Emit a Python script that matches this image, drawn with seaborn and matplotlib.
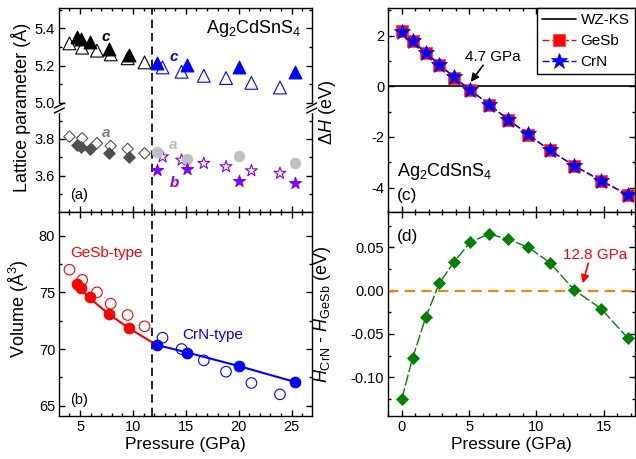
import matplotlib
matplotlib.use("Agg")
import matplotlib.pyplot as plt
from matplotlib.ticker import MultipleLocator, FormatStrFormatter
from matplotlib.lines import Line2D
import seaborn as sns

# ---- left column: Ag2CdSnS4 structure vs pressure ----
p_gesb_exp = [4.7, 5.1, 5.9, 7.7, 9.6]
p_gesb_calc = [4.0, 5.2, 6.6, 7.9, 9.5, 11.1]
p_crn_exp = [12.3, 15.1, 20.0, 25.3]
p_crn_calc = [12.8, 14.6, 16.7, 18.8, 21.2, 23.9]

c_gesb_exp = [5.355, 5.342, 5.324, 5.287, 5.256]
c_gesb_calc = [5.319, 5.296, 5.280, 5.260, 5.239, 5.217]
c_crn_exp = [5.212, 5.203, 5.190, 5.165]
c_crn_calc = [5.190, 5.167, 5.145, 5.133, 5.107, 5.082]

a_gesb_exp = [3.767, 3.755, 3.745, 3.722, 3.703]
a_gesb_calc = [3.813, 3.804, 3.777, 3.762, 3.746, 3.722]
a_crn_exp = [3.727, 3.689, 3.707, 3.667]
b_crn_exp = [3.631, 3.636, 3.572, 3.558]
b_crn_calc = [3.703, 3.685, 3.667, 3.649, 3.627, 3.613]

v_gesb_exp = [75.71, 75.41, 74.56, 73.06, 71.83]
v_gesb_calc = [77.0, 76.1, 75.0, 74.0, 73.0, 72.0]
v_crn_exp = [70.35, 69.67, 68.53, 67.09]
v_crn_calc = [71.0, 70.0, 69.0, 68.0, 67.0, 66.0]

# fitted EOS curves
p_fit_gesb = [4.7, 5.9, 7.7, 9.6, 11.8]
v_fit_gesb = [75.7, 74.5, 73.1, 71.85, 70.6]
p_fit_crn = [12.3, 15.1, 20.0, 25.3]
v_fit_crn = [70.35, 69.7, 68.5, 67.1]

p_transition = 11.8

# ---- right column: enthalpies ----
p_calc = [0, 0.8, 1.8, 2.8, 3.9, 5.1, 6.5, 7.9, 9.4, 11.0, 12.8, 14.8, 16.8]
dH_gesb = [2.18, 1.79, 1.33, 0.86, 0.34, -0.16, -0.73, -1.32, -1.91, -2.53, -3.13, -3.72, -4.27]
dH_crn = [2.16, 1.78, 1.32, 0.86, 0.35, -0.15, -0.72, -1.31, -1.90, -2.53, -3.13, -3.73, -4.29]
dH_diff = [-0.125, -0.078, -0.030, 0.009, 0.0335, 0.0562, 0.0655, 0.0593, 0.050, 0.0323, 0.0008, -0.0208, -0.055]

sns.set_theme(style="ticks")
plt.rcParams['font.family'] = ['Liberation Sans', 'DejaVu Sans']
plt.rcParams['mathtext.fontset'] = 'custom'
plt.rcParams['mathtext.rm'] = 'Liberation Sans'
plt.rcParams['mathtext.it'] = 'Liberation Sans:italic'
plt.rcParams['mathtext.bf'] = 'Liberation Sans:bold'
plt.rcParams['axes.unicode_minus'] = False
plt.rcParams['axes.edgecolor'] = 'black'
plt.rcParams['axes.linewidth'] = 1.0
plt.rcParams['text.color'] = 'black'
plt.rcParams['axes.labelcolor'] = 'black'
plt.rcParams['xtick.color'] = 'black'
plt.rcParams['ytick.color'] = 'black'

W, H = 636, 459
fig = plt.figure(figsize=(W / 100, H / 100), dpi=100)


def rect(x0, y0, x1, y1):
    return [x0 / W, 1 - y1 / H, (x1 - x0) / W, (y1 - y0) / H]


def set_ticks(ax, xmaj, xmin, ymaj, ymin, yfmt=None):
    ax.xaxis.set_major_locator(MultipleLocator(xmaj))
    ax.xaxis.set_minor_locator(MultipleLocator(xmin))
    ax.yaxis.set_major_locator(MultipleLocator(ymaj))
    ax.yaxis.set_minor_locator(MultipleLocator(ymin))
    if yfmt:
        ax.yaxis.set_major_formatter(FormatStrFormatter(yfmt))
    ax.tick_params(which='both', direction='in', top=True, right=True,
                   labelsize=10.5, width=1.0, pad=3)
    ax.tick_params(which='major', length=4.5)
    ax.tick_params(which='minor', length=2.5)


ax_at = fig.add_axes(rect(59.3, 8, 311.7, 108))
ax_ab = fig.add_axes(rect(59.3, 108, 311.7, 212))
ax_b = fig.add_axes(rect(59.3, 212, 311.7, 416))
ax_c = fig.add_axes(rect(388.3, 8, 635, 212))
ax_d = fig.add_axes(rect(388.3, 212, 635, 416))

open_kw = dict(facecolor='none', linewidth=0.8, zorder=3)
fill_kw = dict(linewidth=0.8, zorder=4)

# ---- (a) upper: c ----
sns.scatterplot(x=p_gesb_calc, y=c_gesb_calc, ax=ax_at, marker='^', s=85,
                color='black', edgecolor='black', **open_kw)
sns.scatterplot(x=p_gesb_exp, y=c_gesb_exp, ax=ax_at, marker='^', s=85,
                color='black', edgecolor='black', **fill_kw)
sns.scatterplot(x=p_crn_calc, y=c_crn_calc, ax=ax_at, marker='^', s=85,
                color='blue', edgecolor='blue', **open_kw)
sns.scatterplot(x=p_crn_exp, y=c_crn_exp, ax=ax_at, marker='^', s=85,
                color='blue', edgecolor='blue', **fill_kw)

# ---- (a) lower: a, b ----
sns.scatterplot(x=p_gesb_calc, y=a_gesb_calc, ax=ax_ab, marker='D', s=34,
                color='#505050', edgecolor='#505050', **open_kw)
sns.scatterplot(x=p_gesb_exp, y=a_gesb_exp, ax=ax_ab, marker='D', s=34,
                color='#505050', edgecolor='#505050', **fill_kw)
sns.scatterplot(x=p_crn_exp, y=a_crn_exp, ax=ax_ab, marker='o', s=55,
                color='#c0c0c0', edgecolor='#c0c0c0', **fill_kw)
sns.scatterplot(x=p_crn_calc, y=b_crn_calc, ax=ax_ab, marker='*', s=80,
                color='#8000ff', edgecolor='#8000ff', **open_kw)
sns.scatterplot(x=p_crn_exp, y=b_crn_exp, ax=ax_ab, marker='*', s=80,
                color='#8000ff', edgecolor='#8000ff', **fill_kw)

for ax in (ax_at, ax_ab, ax_b):
    ax.axvline(p_transition, color='black', lw=1.2, ls=(0, (5, 3)), zorder=2)
    ax.set_xlim(3.04, 26.9)

ax_at.set_ylim(4.972, 5.509)
ax_ab.set_ylim(3.402, 3.969)
set_ticks(ax_at, 5, 1, 0.2, 0.1, '%.1f')
set_ticks(ax_ab, 5, 1, 0.2, 0.1, '%.1f')
ax_at.spines['bottom'].set_visible(False)
ax_ab.spines['top'].set_visible(False)
ax_at.tick_params(which='both', bottom=False, labelbottom=False)
ax_ab.tick_params(which='both', top=False, labelbottom=False)

ax_at.text(0.96, 0.797, 'Ag$_2$CdSnS$_4$', transform=ax_at.transAxes,
           ha='right', va='center', fontsize=13)
ax_at.text(7.46, 5.353, 'c', color='black', fontsize=11, fontweight='bold',
           style='italic', ha='center', va='center')
ax_at.text(13.82, 5.247, 'c', color='blue', fontsize=11, fontweight='bold',
           style='italic', ha='center', va='center')
ax_ab.text(7.46, 3.831, 'a', color='#808080', fontsize=11, fontweight='bold',
           style='italic', ha='center', va='center')
ax_ab.text(13.82, 3.767, 'a', color='#c0c0c0', fontsize=11, fontweight='bold',
           style='italic', ha='center', va='center')
ax_ab.text(13.88, 3.561, 'b', color='#8000ff', fontsize=11, fontweight='bold',
           style='italic', ha='center', va='center')
ax_ab.text(0.042, 0.163, '(a)', transform=ax_ab.transAxes, ha='left',
           va='center', fontsize=10.5)

# axis break marks
for xb in (59.3, 311.7):
    fig.add_artist(Line2D([xb / W, xb / W], [1 - 105 / H, 1 - 111 / H],
                          color='white', lw=2.5, transform=fig.transFigure))
    for dy in (-2.5, 2.5):
        fig.add_artist(Line2D([(xb - 5) / W, (xb + 5) / W],
                              [1 - (108 + dy + 2.5) / H, 1 - (108 + dy - 2.5) / H],
                              color='black', lw=1.0, transform=fig.transFigure))

fig.text(21 / W, 1 - 107 / H, 'Lattice parameter (Å)', rotation=90,
         ha='center', va='center', fontsize=13)

# ---- (b) volume ----
sns.lineplot(x=p_fit_gesb, y=v_fit_gesb, ax=ax_b, color='red', lw=1.5, zorder=2)
sns.lineplot(x=p_fit_crn, y=v_fit_crn, ax=ax_b, color='blue', lw=1.5, zorder=2)
sns.scatterplot(x=p_gesb_calc, y=v_gesb_calc, ax=ax_b, marker='o', s=58,
                color='red', edgecolor='red', **open_kw)
sns.scatterplot(x=p_gesb_exp, y=v_gesb_exp, ax=ax_b, marker='o', s=58,
                color='red', edgecolor='red', **fill_kw)
sns.scatterplot(x=p_crn_calc, y=v_crn_calc, ax=ax_b, marker='o', s=58,
                color='blue', edgecolor='blue', **open_kw)
sns.scatterplot(x=p_crn_exp, y=v_crn_exp, ax=ax_b, marker='o', s=58,
                color='blue', edgecolor='blue', **fill_kw)
ax_b.set_ylim(64.09, 82.09)
set_ticks(ax_b, 5, 1, 5, 2.5)
ax_b.set_xlabel('Pressure (GPa)', fontsize=12.5, labelpad=2)
ax_b.set_ylabel('')
fig.text(19 / W, 1 - 309 / H, 'Volume (Å$^3$)', rotation=90,
         ha='center', va='center', fontsize=13)
ax_b.text(0.042, 0.797, 'GeSb-type', color='red', transform=ax_b.transAxes,
          ha='left', va='center', fontsize=11)
ax_b.text(0.489, 0.397, 'CrN-type', color='blue', transform=ax_b.transAxes,
          ha='left', va='center', fontsize=11)
ax_b.text(0.042, 0.078, '(b)', transform=ax_b.transAxes, ha='left',
          va='center', fontsize=10.5)

# ---- (c) enthalpy relative to WZ-KS ----
ax_c.axhline(0, color='black', lw=1.2, label='WZ-KS', zorder=1)
sns.lineplot(x=p_calc, y=dH_gesb, ax=ax_c, color='red', lw=1.0,
             linestyle=(0, (5, 2)), marker='s', markersize=9,
             markeredgecolor='#ff5050', markeredgewidth=0.8, label='GeSb', zorder=3)
sns.lineplot(x=p_calc, y=dH_crn, ax=ax_c, color='blue', lw=1.0,
             linestyle=(0, (5, 2)), marker='*', markersize=12,
             markeredgecolor='blue', markeredgewidth=0.5, label='CrN', zorder=4)
ax_c.set_xlim(-1.0, 17.32)
ax_c.set_ylim(-4.96, 3.09)
set_ticks(ax_c, 5, 1, 2, 1)
ax_c.tick_params(labelbottom=False)
ax_c.set_xlabel('')
ax_c.set_ylabel('Δ$\\mathit{H}$ (eV)', fontsize=13)
ax_c.yaxis.set_label_coords(-0.205, 0.49)
leg = ax_c.legend(loc='upper right', bbox_to_anchor=(1, 1), borderaxespad=0,
                  frameon=True, fancybox=False, edgecolor='black', framealpha=1,
                  fontsize=11, handlelength=2.2, handletextpad=0.3,
                  borderpad=0.35, labelspacing=0.45)
leg.get_frame().set_linewidth(1.0)
ax_c.annotate('', xy=(5.12, 0.17), xytext=(6.04, 0.83),
              arrowprops=dict(arrowstyle='-|>', color='black', lw=1.2,
                              mutation_scale=12, shrinkA=0, shrinkB=0))
ax_c.text(6.78, 1.16, '4.7 GPa', ha='center', va='center', fontsize=11)
ax_c.text(0.034, 0.198, 'Ag$_2$CdSnS$_4$', transform=ax_c.transAxes,
          ha='left', va='center', fontsize=13)
ax_c.text(0.034, 0.083, '(c)', transform=ax_c.transAxes, ha='left',
          va='center', fontsize=12.5)

# ---- (d) H_CrN - H_GeSb ----
ax_d.axhline(0, color='#ff8000', lw=1.5, ls=(0, (5, 3)), zorder=1)
sns.lineplot(x=p_calc, y=dH_diff, ax=ax_d, color='#008000', lw=1.0,
             linestyle=(0, (8, 2)), marker='D', markersize=6.6,
             markeredgecolor='#008000', markeredgewidth=0.5, zorder=3)
ax_d.set_xlim(-1.0, 17.32)
ax_d.set_ylim(-0.1447, 0.0908)
set_ticks(ax_d, 5, 1, 0.05, 0.025, '%.2f')
ax_d.set_xlabel('Pressure (GPa)', fontsize=12.5, labelpad=2)
ax_d.set_ylabel('$\\mathit{H}_{\\rm CrN}$ - $\\mathit{H}_{\\rm GeSb}$ (eV)', fontsize=13)
ax_d.yaxis.set_label_coords(-0.225, 0.5)
ax_d.annotate('', xy=(13.44, 0.0085), xytext=(13.85, 0.0316),
              arrowprops=dict(arrowstyle='-|>', color='red', lw=1.2,
                              mutation_scale=12, shrinkA=0, shrinkB=0))
ax_d.text(14.35, 0.0412, '12.8 GPa', color='red', ha='center', va='center',
          fontsize=11)
ax_d.text(0.034, 0.879, '(d)', transform=ax_d.transAxes, ha='left',
          va='center', fontsize=12.5)

fig.savefig('out.png', dpi=100)
plt.close(fig)
